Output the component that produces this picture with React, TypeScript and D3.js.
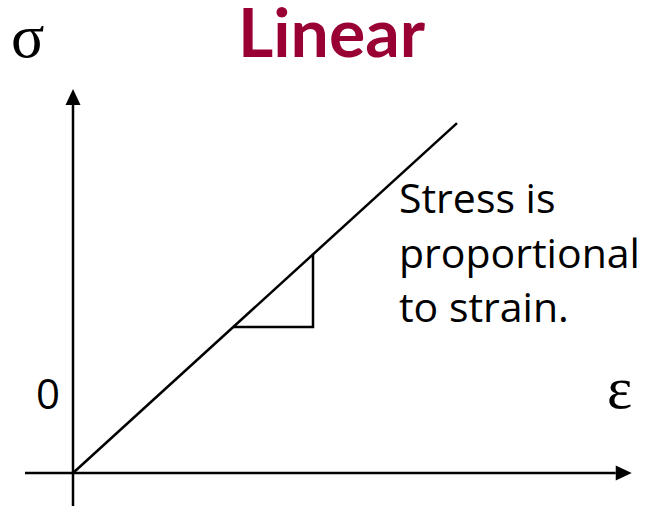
import React from "react";
import * as d3 from "d3";

// Linear elastic behaviour: stress rises in proportion to strain.
const strain = [0, 10];
const stress = [0, 9.11];

// Slope triangle (rise over run) drawn on the curve.
const slopeRun = [4.17, 6.25];

const titleText = "Linear";
const yLabel = "σ";
const xLabel = "ε";
const originLabel = "0";
const noteLines = ["Stress is", "proportional", "to strain."];

const W = 646;
const H = 506;

export default function App() {
  const x = d3.scaleLinear().domain([0, 10]).range([73, 457]);
  const y = d3.scaleLinear().domain([0, 10]).range([473, 89]);

  const pts = strain.map((s, i) => [s, stress[i]] as [number, number]);
  const line = d3
    .line<[number, number]>()
    .x((d) => x(d[0]))
    .y((d) => y(d[1]));

  const modulus = stress[1] / strain[1];
  const tri: [number, number][] = [
    [slopeRun[0], modulus * slopeRun[0]],
    [slopeRun[1], modulus * slopeRun[0]],
    [slopeRun[1], modulus * slopeRun[1]],
  ];

  const x0 = x(0);
  const y0 = y(0);
  const xAxisStart = x(-1.25);
  const xAxisEnd = x(14.55);
  const yAxisBottom = H;
  const yAxisTop = y(10);
  const ah = 16; // arrowhead length
  const aw = 7.5; // arrowhead half width

  return (
    <svg
      width={W}
      height={H}
      style={{ position: "absolute", left: 0, top: 0, display: "block", background: "#fff" }}
    >
      <text
        x={331.5}
        y={57}
        textAnchor="middle"
        fill="#990033"
        fontFamily="Lato, 'Open Sans', sans-serif"
        fontWeight={700}
        fontSize={66}
        textLength={187}
        lengthAdjust="spacingAndGlyphs"
      >
        {titleText}
      </text>
      <text x={11} y={57} fontFamily="'Liberation Serif', serif" fontSize={62} fill="#000">
        {yLabel}
      </text>
      <text x={607} y={408} fontFamily="'Liberation Serif', serif" fontSize={60} fill="#000">
        {xLabel}
      </text>
      <text x={36} y={409} fontFamily="'Open Sans', sans-serif" fontSize={42} fill="#000">
        {originLabel}
      </text>

      {/* axes */}
      <line x1={x0} y1={yAxisBottom} x2={x0} y2={yAxisTop + ah} stroke="#000" strokeWidth={2.5} />
      <path
        d={`M${x0},${yAxisTop} L${x0 - aw},${yAxisTop + ah} L${x0 + aw},${yAxisTop + ah} Z`}
        fill="#000"
      />
      <line x1={xAxisStart} y1={y0} x2={xAxisEnd - ah} y2={y0} stroke="#000" strokeWidth={2.5} />
      <path
        d={`M${xAxisEnd},${y0} L${xAxisEnd - ah},${y0 - aw} L${xAxisEnd - ah},${y0 + aw} Z`}
        fill="#000"
      />

      {/* stress-strain line */}
      <path d={line(pts) ?? ""} fill="none" stroke="#000" strokeWidth={2.5} />
      <path d={line(tri) ?? ""} fill="none" stroke="#000" strokeWidth={2.5} />

      {noteLines.map((t, i) => (
        <text
          key={t}
          x={399}
          y={213 + i * 54.5}
          fontFamily="'Open Sans', sans-serif"
          fontSize={41}
          fill="#000"
        >
          {t}
        </text>
      ))}
    </svg>
  );
}
